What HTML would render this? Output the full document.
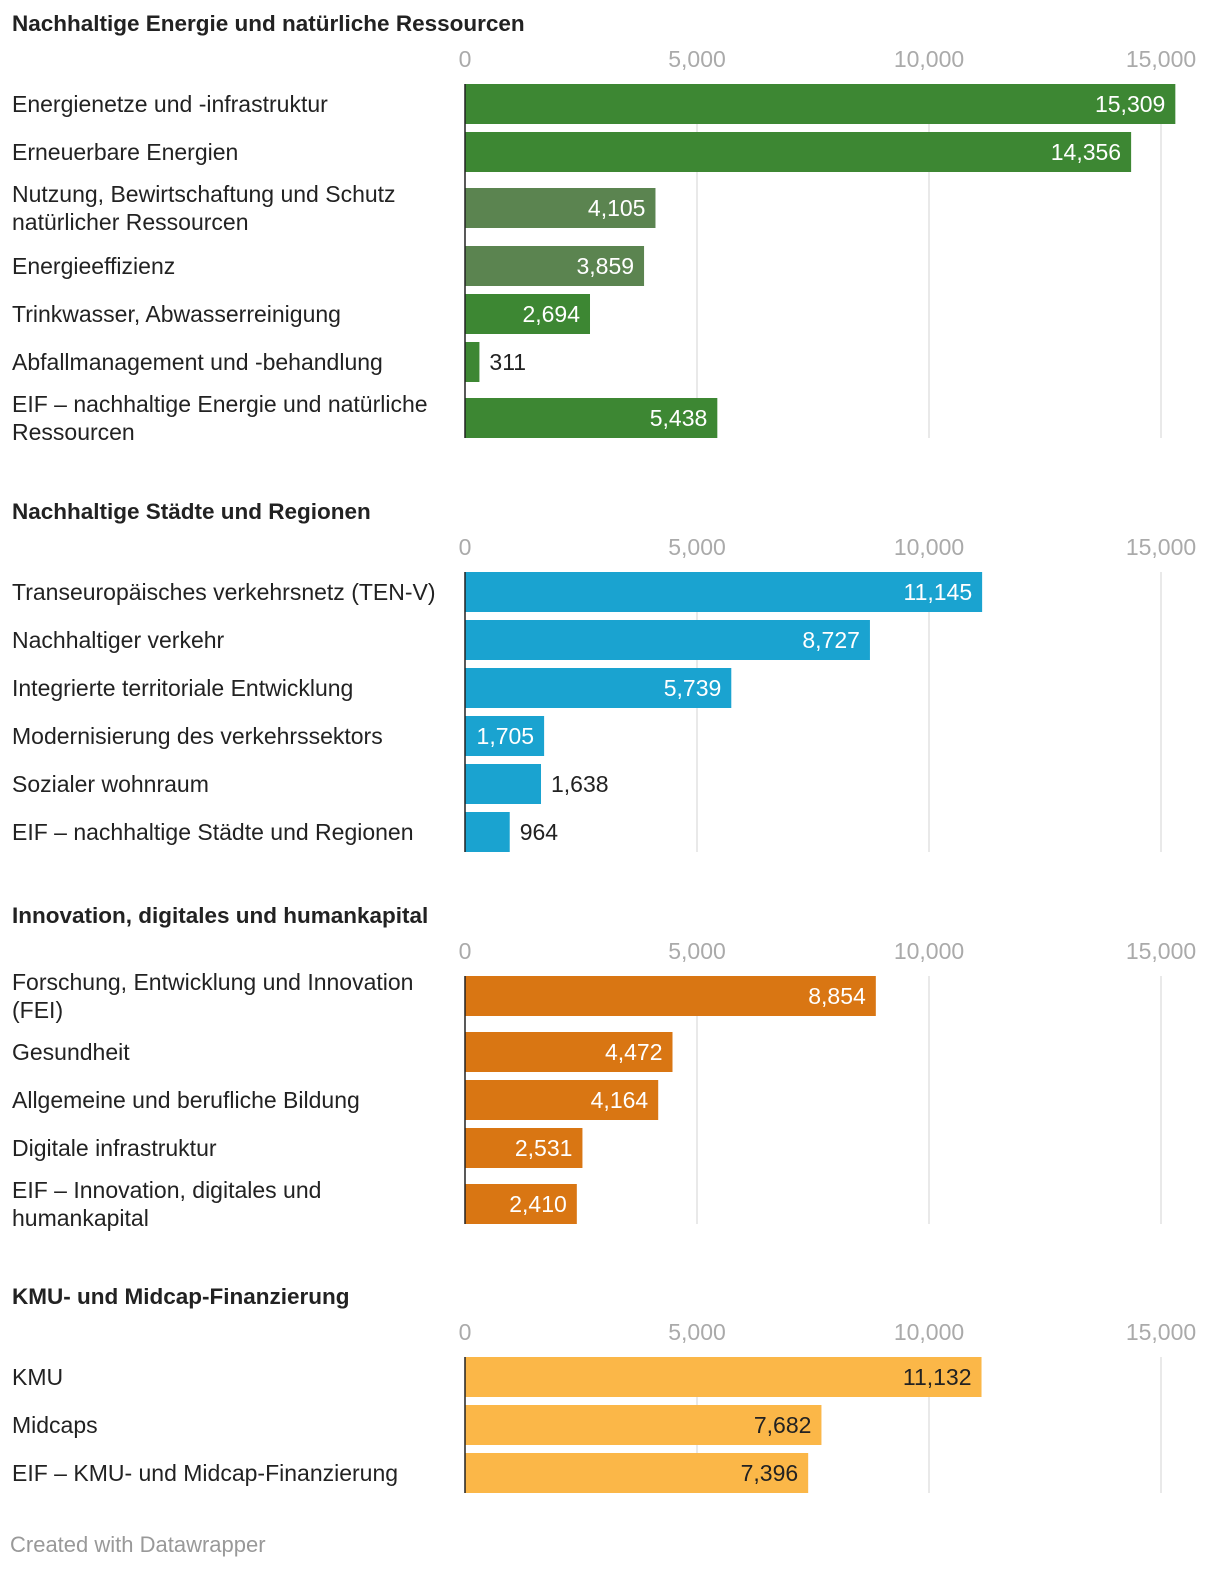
<!DOCTYPE html>
<html><head><meta charset="utf-8">
<style>
body{margin:0;background:#fff;width:1220px;height:1570px;overflow:hidden;font-family:"Liberation Sans",sans-serif}
svg text{font-family:"Liberation Sans",sans-serif}
</style></head>
<body>
<svg id="chart" width="1220" height="1570" xmlns="http://www.w3.org/2000/svg"></svg>
<script>
const sectionTitles=["Nachhaltige Energie und natürliche Ressourcen","Nachhaltige Städte und Regionen","Innovation, digitales und humankapital","KMU- und Midcap-Finanzierung"];
const cat1=[["Energienetze und -infrastruktur"],["Erneuerbare Energien"],["Nutzung, Bewirtschaftung und Schutz","natürlicher Ressourcen"],["Energieeffizienz"],["Trinkwasser, Abwasserreinigung"],["Abfallmanagement und -behandlung"],["EIF – nachhaltige Energie und natürliche","Ressourcen"]];
const val1=[15309,14356,4105,3859,2694,311,5438];
const cat2=[["Transeuropäisches verkehrsnetz (TEN-V)"],["Nachhaltiger verkehr"],["Integrierte territoriale Entwicklung"],["Modernisierung des verkehrssektors"],["Sozialer wohnraum"],["EIF – nachhaltige Städte und Regionen"]];
const val2=[11145,8727,5739,1705,1638,964];
const cat3=[["Forschung, Entwicklung und Innovation","(FEI)"],["Gesundheit"],["Allgemeine und berufliche Bildung"],["Digitale infrastruktur"],["EIF – Innovation, digitales und","humankapital"]];
const val3=[8854,4472,4164,2531,2410];
const cat4=[["KMU"],["Midcaps"],["EIF – KMU- und Midcap-Finanzierung"]];
const val4=[11132,7682,7396];
const ticks=[0,5000,10000,15000];

const svg=document.getElementById('chart');
const NS='http://www.w3.org/2000/svg';
function x(v){return 465+v*232/5000;}
function mk(t,a,p){const e=document.createElementNS(NS,t);for(const k in a)e.setAttribute(k,a[k]);(p||svg).appendChild(e);return e;}
const secs=[
 {cats:cat1,vals:val1,title:23,tick:59,color:"#3d8733",colors:["#3d8733","#3d8733","#5b8450","#5b8450","#3d8733","#3d8733","#3d8733"]},
 {cats:cat2,vals:val2,title:511,tick:547,color:"#1aa3d0"},
 {cats:cat3,vals:val3,title:915,tick:951,color:"#d97613"},
 {cats:cat4,vals:val4,title:1296,tick:1332,color:"#fbb748"}
];
secs.forEach((s,si)=>{
  const g=mk('g',{});
  
  
  const tt=mk('text',{x:12,y:s.title+8,'font-size':22.5,'font-weight':'bold',fill:'#222'},g);
  tt.textContent=sectionTitles[si];
  
  
  let y=s.tick+25;const rows=[];
  s.cats.forEach((c,i)=>{
    const multi=c.length>1;
    const off=(multi&&i>0)?8:0;
    const h=multi?(i>0?66:56):48;
    rows.push({top:y+off});y+=h;
  });
  const bottom=rows[rows.length-1].top+40;
  ticks.forEach(t=>{
    const tl=mk('text',{x:x(t),y:s.tick+8,'font-size':23,fill:'#aaa','text-anchor':'middle'},g);
    tl.textContent=t.toLocaleString('en-US');
    
    
    if(t>0){const gl=mk('line',{x1:x(t),x2:x(t),y1:s.tick+25,y2:bottom,stroke:'#e2e2e2','stroke-width':1.5},g);
    
    }
  });
  s.cats.forEach((c,i)=>{
    const r=rows[i],v=s.vals[i],w=x(v)-x(0);
    const cy=r.top+20;
    const col=s.colors?s.colors[i]:s.color;
    const b=mk('rect',{x:x(0),y:r.top,width:w,height:40,fill:col},g);
    
    
    c.forEach((ln,j)=>{
      const lt=mk('text',{x:12,y:cy+8+(c.length>1?(j-0.5)*28:0),'font-size':23,fill:'#222'},g);
      lt.textContent=ln;
      
      
    });
    const inside=w>78;
    const dark=col==="#fbb748";
    const vt=mk('text',{x:inside?x(v)-10:x(v)+10,y:cy+8,'font-size':23,fill:inside?(dark?'#222':'#fff'):'#222','text-anchor':inside?'end':'start'},g);
    vt.textContent=v.toLocaleString('en-US');
    
    
  });
  const ax=mk('line',{x1:x(0),x2:x(0),y1:s.tick+25,y2:bottom,stroke:'#222','stroke-width':1.5},g);
  
  
});
const f=mk('text',{x:10,y:1552,'font-size':22,fill:'#999'});
f.textContent="Created with Datawrapper";


</script>
</body></html>
